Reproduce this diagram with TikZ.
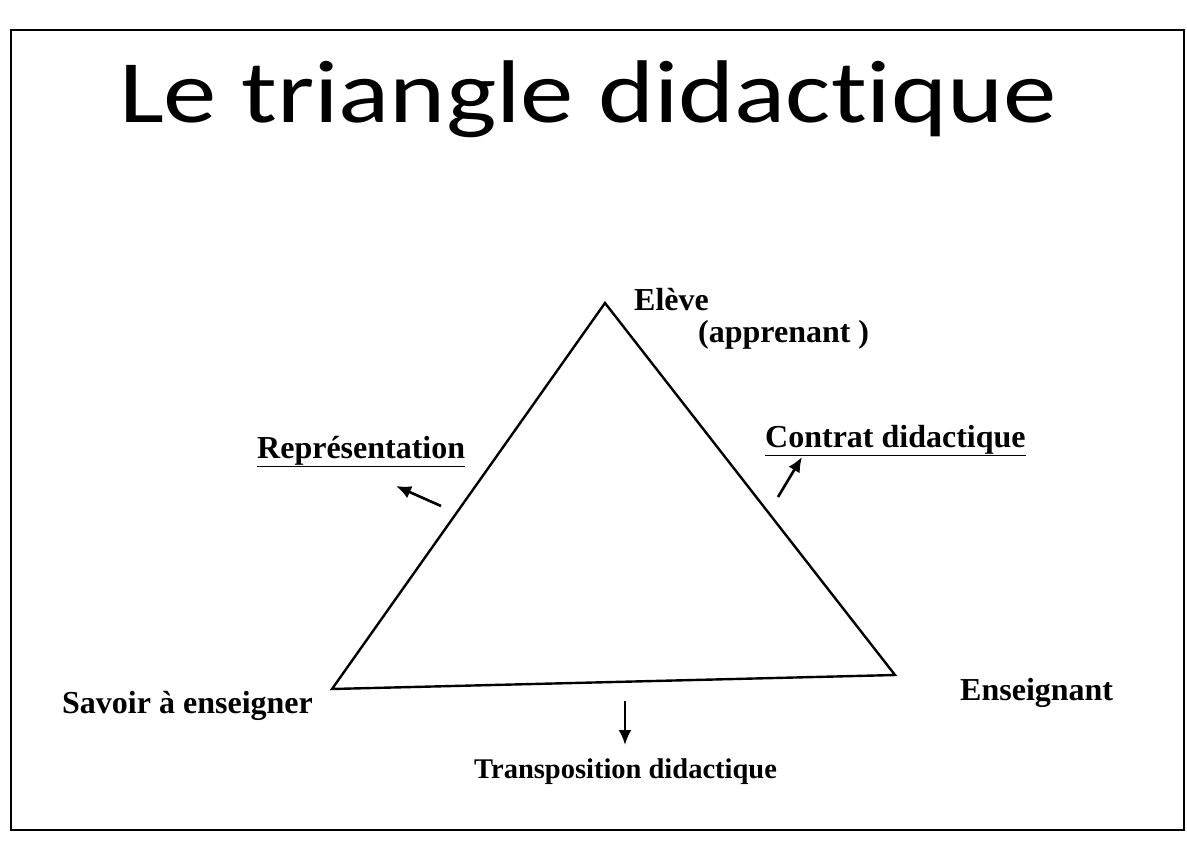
\documentclass[tikz,border=0pt]{standalone}
\usepackage{fontspec}
\setmainfont{Liberation Serif}
\newfontfamily\titlefont[Ligatures=NoCommon]{Carlito}
\usetikzlibrary{arrows.meta}
\tikzset{
  label text/.style={font=\fontsize{32}{38}\selectfont\bfseries, inner sep=0pt},
  pointer/.style={line width=2.6pt, -{Latex[length=15pt,width=13pt]}}
}
\begin{document}
\begin{tikzpicture}[x=1pt,y=-1pt]
        \useasboundingbox (0,0) rectangle (1187,844);
        % Frame of the slide
        \draw[line width=2pt] (11,30) rectangle (1184,830);

        % Title
        \node[anchor=base, inner sep=0pt] (title) at (588,122)
             {\scalebox{1.2}[1]{\titlefont\fontsize{89}{100}\selectfont Le triangle didactique}};

        % Vertices of the triangle
        \coordinate (eleve) at (605,303);
        \coordinate (savoir) at (332,689);
        \coordinate (ens) at (895,675);
        \draw[line width=2.4pt, line join=miter] (eleve) -- (savoir) -- (ens) -- cycle;

        % Vertex labels
        \node[label text, anchor=base west] (elevelbl) at (634,310) {Elève};
        \node[label text, anchor=base west] (apprlbl) at (698,342) {(apprenant )};
        \node[label text, anchor=base west] (savoirlbl) at (62,713) {Savoir à enseigner};
        \node[label text, anchor=base west] (enslbl) at (960,700) {Enseignant};

        % Side labels
        \node[label text, anchor=base west] (repr) at (257,458) {\underline{Représentation}};
        \node[label text, anchor=base west] (contrat) at (765,447) {\underline{Contrat didactique}};
        \node[label text, font=\fontsize{28.5}{34}\selectfont\bfseries, anchor=base west] (transpo) at (474,778) {Transposition didactique};

        % Small arrows
        \coordinate (r1) at (441,506);  \coordinate (r2) at (396,486);
        \coordinate (c1) at (778,497);  \coordinate (c2) at (802,457);
        \coordinate (t1) at (625,701);  \coordinate (t2) at (625,745);
        \draw[pointer] (r1) -- (r2);
        \draw[pointer] (c1) -- (c2);
        \draw[pointer] (t1) -- (t2);
      \end{tikzpicture}
\end{document}
